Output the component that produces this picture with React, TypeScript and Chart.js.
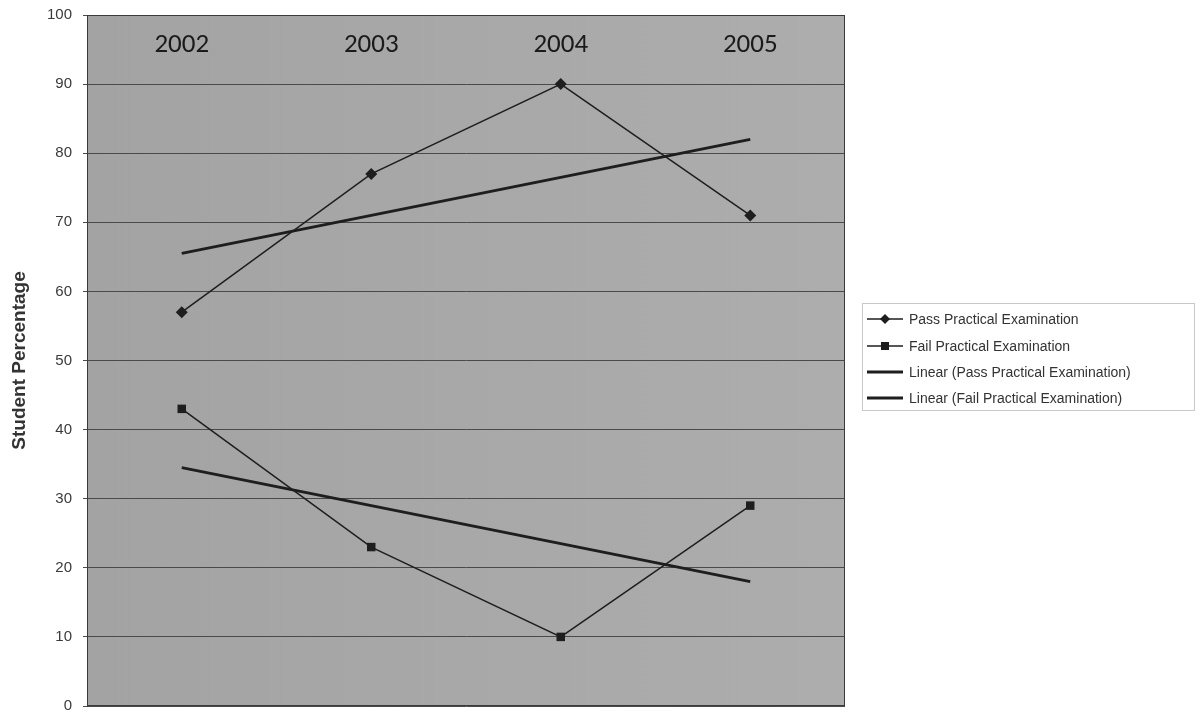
import React, { useEffect, useRef } from "react";
import { Chart, registerables } from "chart.js";

Chart.register(...registerables);

const years = ["2002", "2003", "2004", "2005"];
const passValues = [57, 77, 90, 71];
const failValues = [43, 23, 10, 29];
const passTrend = [65.5, 71, 76.5, 82];
const failTrend = [34.5, 29, 23.5, 18];
const legendLabels = [
  "Pass Practical Examination",
  "Fail Practical Examination",
  "Linear (Pass Practical Examination)",
  "Linear (Fail Practical Examination)",
];

const INK = "#1e1e1e";

const decorPlugin = {
  id: "decor",
  beforeDraw(chart: any) {
    const { ctx, chartArea: a } = chart;
    ctx.save();
    ctx.fillStyle = "#ffffff";
    ctx.fillRect(0, 0, chart.width, chart.height);
    const g = ctx.createLinearGradient(a.left, 0, a.right, 0);
    g.addColorStop(0, "#a3a3a3");
    g.addColorStop(1, "#adadad");
    ctx.fillStyle = g;
    ctx.fillRect(a.left, a.top, a.right - a.left, a.bottom - a.top);
    ctx.restore();
  },
  afterDatasetsDraw(chart: any) {
    const { ctx, chartArea: a, scales } = chart;
    ctx.save();
    // frame
    ctx.strokeStyle = "#3a3a3a";
    ctx.lineWidth = 1;
    ctx.strokeRect(a.left + 0.5, a.top + 0.5, a.right - a.left - 1, a.bottom - a.top - 1);
    // year labels inside the plot
    ctx.fillStyle = "#1a1a1a";
    ctx.font = "27px Carlito, 'Open Sans', 'Liberation Sans', sans-serif";
    ctx.textAlign = "center";
    ctx.textBaseline = "middle";
    years.forEach((y, i) => {
      ctx.fillText(y, scales.x.getPixelForValue(i), a.top + 30);
    });
    // legend
    const lx = 862, ly = 303, lw = 332, lh = 107;
    ctx.fillStyle = "#ffffff";
    ctx.fillRect(lx, ly, lw, lh);
    ctx.strokeStyle = "#c8c8c8";
    ctx.strokeRect(lx + 0.5, ly + 0.5, lw, lh);
    const rows = [319, 346, 372, 398];
    ctx.font = "14px 'Liberation Sans', Arial, sans-serif";
    ctx.textAlign = "left";
    legendLabels.forEach((label, i) => {
      const yy = rows[i];
      ctx.strokeStyle = INK;
      ctx.lineWidth = i < 2 ? 1.5 : 3;
      ctx.beginPath();
      ctx.moveTo(867, yy);
      ctx.lineTo(903, yy);
      ctx.stroke();
      ctx.fillStyle = INK;
      if (i === 0) {
        ctx.beginPath();
        ctx.moveTo(885, yy - 5);
        ctx.lineTo(890, yy);
        ctx.lineTo(885, yy + 5);
        ctx.lineTo(880, yy);
        ctx.closePath();
        ctx.fill();
      } else if (i === 1) {
        ctx.fillRect(881, yy - 4, 8, 8);
      }
      ctx.fillStyle = "#333333";
      ctx.fillText(label, 909, yy + 1);
    });
    ctx.restore();
  },
};

export default function App() {
  const ref = useRef<HTMLCanvasElement | null>(null);
  useEffect(() => {
    document.body.style.margin = "0";
    const chart = new Chart(ref.current as HTMLCanvasElement, {
      type: "line",
      data: {
        labels: years,
        datasets: [
          {
            label: legendLabels[0],
            data: passValues,
            borderColor: INK,
            backgroundColor: INK,
            borderWidth: 1.5,
            pointStyle: "rectRot",
            pointRadius: 6,
            pointBorderWidth: 0,
            tension: 0,
          },
          {
            label: legendLabels[1],
            data: failValues,
            borderColor: INK,
            backgroundColor: INK,
            borderWidth: 1.5,
            pointStyle: "rect",
            pointRadius: 6,
            pointBorderWidth: 0,
            tension: 0,
          },
          {
            label: legendLabels[2],
            data: passTrend,
            borderColor: INK,
            borderWidth: 3,
            pointRadius: 0,
            tension: 0,
          },
          {
            label: legendLabels[3],
            data: failTrend,
            borderColor: INK,
            borderWidth: 3,
            pointRadius: 0,
            tension: 0,
          },
        ],
      },
      options: {
        animation: false,
        responsive: false,
        devicePixelRatio: 1,
        layout: { padding: { left: 0, right: 355, top: 15, bottom: 9 } },
        plugins: { legend: { display: false }, tooltip: { enabled: false } },
        scales: {
          x: {
            offset: true,
            grid: { display: false, drawTicks: false },
            border: { display: false },
            ticks: { display: false },
            afterFit: (axis: any) => {
              axis.height = 0;
              axis.paddingLeft = 0;
              axis.paddingRight = 0;
            },
          },
          y: {
            min: 0,
            max: 100,
            ticks: {
              stepSize: 10,
              color: "#3a3a3a",
              font: { family: "'Liberation Sans', Arial, sans-serif", size: 15 },
              padding: 11,
            },
            grid: { color: "#4a4a4a", lineWidth: 1, tickLength: 4, drawOnChartArea: true },
            border: { display: true, color: "#3a3a3a" },
            title: {
              display: true,
              text: "Student Percentage",
              color: "#333333",
              font: { family: "'Liberation Sans', Arial, sans-serif", size: 19, weight: "bold" },
              padding: { top: 8, bottom: 10 },
            },
            afterFit: (axis: any) => {
              axis.width = 87;
              axis.paddingTop = 0;
              axis.paddingBottom = 0;
            },
          },
        },
      },
      plugins: [decorPlugin],
    } as any);
    return () => chart.destroy();
  }, []);
  return <canvas ref={ref} width={1200} height={715} style={{ display: "block" }} />;
}
